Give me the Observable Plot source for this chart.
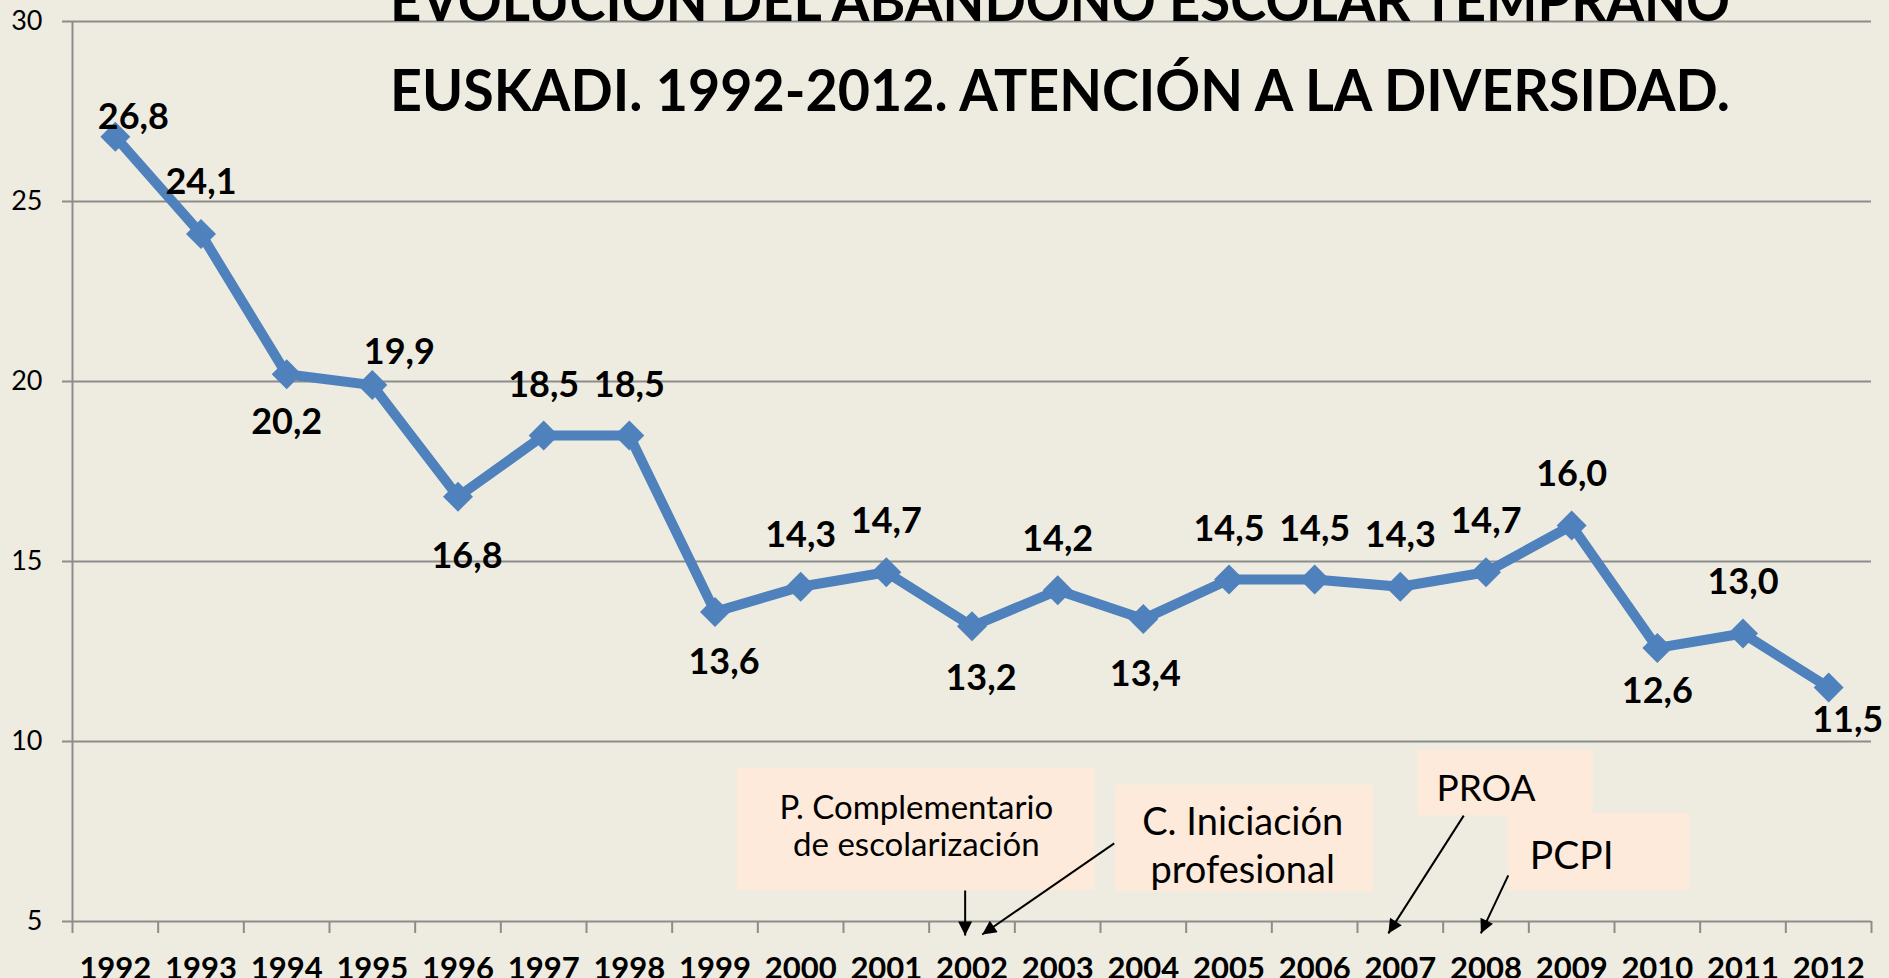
<!DOCTYPE html>
<html>
<head>
<meta charset="utf-8">
<script src="https://cdn.jsdelivr.net/npm/d3@7"></script>
<script src="https://cdn.jsdelivr.net/npm/@observablehq/plot@0.6"></script>
<style>
  html, body { margin: 0; padding: 0; background: #EEECE1; overflow: hidden; }
  #chart { width: 1889px; height: 978px; }
</style>
</head>
<body>
<div id="chart"></div>
<script>
// ---- data ----
const years = [1992, 1993, 1994, 1995, 1996, 1997, 1998, 1999, 2000, 2001, 2002,
               2003, 2004, 2005, 2006, 2007, 2008, 2009, 2010, 2011, 2012];
const rates = [26.8, 24.1, 20.2, 19.9, 16.8, 18.5, 18.5, 13.6, 14.3, 14.7, 13.2,
               14.2, 13.4, 14.5, 14.5, 14.3, 14.7, 16.0, 12.6, 13.0, 11.5];
const yTicks = [5, 10, 15, 20, 25, 30];
const titleLines = ["EVOLUCIÓN DEL ABANDONO ESCOLAR TEMPRANO",
                    "EUSKADI. 1992-2012. ATENCIÓN A LA DIVERSIDAD."];

// annotation boxes (in year / % units)
const noteLabels = ["P. Complementario\nde escolarización", "C. Iniciación\nprofesional", "PROA", "PCPI"];
const noteBoxX1 = [1999.26, 2003.68, 2007.20, 2008.26];
const noteBoxX2 = [2003.44, 2006.69, 2009.25, 2010.38];
const noteBoxYTop = [9.25, 8.78, 9.75, 8.0];
const noteBoxYBottom = [5.86, 5.83, 7.94, 5.86];
const noteTextX = [2001.35, 2005.16, 2008.0, 2009.0];
const noteTextY = [6.833, 6.056, 8.361, 6.464];
const arrowX1 = [2001.92, 2003.66, 2007.74, 2008.26];
const arrowY1 = [5.86, 7.17, 7.94, 6.28];
const arrowX2 = [2001.92, 2002.12, 2006.86, 2007.94];
const arrowY2 = [4.61, 4.64, 4.67, 4.67];

// ---- styles (kept apart from the data) ----
const labelNudgeX = [18, 0, 0, 27, 9, 0, 0, 9, 0, 0, 9, 0, 2, 0, 0, 0, 0, 0, 0, 0, 19];
const labelNudgeY = [-19, -51, 48, -33, 60, -50, -50, 51, -51, -51, 52, -51, 55, -50, -50, -51, -51, -51, 44, -51, 33];
const noteFontSize = [33, 38, 37, 39];
const noteLineSpacing = [37, 48, 40, 40];

const lineColor = "#4F81BD";
const gridColor = "#8C8C8C";
const boxColor = "#FDEADA";

const rows = years.map((year, i) => ({year, rate: rates[i], dx: labelNudgeX[i], dy: labelNudgeY[i]}));
const notes = noteLabels.map((label, i) => ({
  label,
  x1: noteBoxX1[i], x2: noteBoxX2[i], y1: noteBoxYTop[i], y2: noteBoxYBottom[i],
  tx: noteTextX[i], ty: noteTextY[i],
  ax1: arrowX1[i], ay1: arrowY1[i], ax2: arrowX2[i], ay2: arrowY2[i],
  fs: noteFontSize[i], lh: noteLineSpacing[i] / noteFontSize[i]
}));
const boundaries = years.map(y => y - 0.5).concat([years[years.length - 1] + 0.5]);
const fmt = v => v.toFixed(1).replace(".", ",");

const labelMarks = d3.groups(rows, d => `${d.dx},${d.dy}`).map(([, g]) =>
  Plot.text(g, {
    x: "year", y: "rate", text: d => fmt(d.rate),
    dx: g[0].dx, dy: g[0].dy,
    fontSize: 36, fontWeight: "bold", fill: "#000", lineAnchor: "middle"
  })
);

const noteTextMarks = notes.map(n =>
  Plot.text([n], {
    x: "tx", y: "ty", text: "label",
    fontSize: n.fs, lineHeight: n.lh, lineAnchor: "bottom", textAnchor: "middle", fill: "#000"
  })
);

const plot = Plot.plot({
  width: 1889,
  height: 978,
  marginLeft: 72,
  marginRight: 18,
  marginTop: 21,
  marginBottom: 57,
  style: {background: "#EEECE1", fontFamily: "Lato, 'Open Sans', sans-serif", color: "#000", overflow: "visible"},
  x: {type: "linear", domain: [1991.5, 2012.5], label: null},
  y: {domain: [5, 30], label: null},
  marks: [
    Plot.gridY(yTicks, {stroke: gridColor, strokeOpacity: 1, strokeWidth: 2}),
    Plot.ruleX([boundaries[0]], {y1: 5, y2: 30, stroke: gridColor, strokeWidth: 2}),
    Plot.axisY(yTicks, {tickSize: 10, tickPadding: 20, stroke: gridColor, strokeWidth: 2,
                        fill: "#000", fontSize: 27, tickFormat: d => String(d), label: null}),
    Plot.axisX(boundaries, {tickSize: 12, tickFormat: () => "", stroke: gridColor, strokeWidth: 2, label: null}),
    Plot.axisX(years, {tickSize: 0, tickPadding: 35, tickFormat: d => String(d),
                       fontSize: 31, fontWeight: "bold", fill: "#000", label: null}),
    Plot.rect(notes, {x1: "x1", x2: "x2", y1: "y1", y2: "y2", fill: boxColor}),
    ...noteTextMarks,
    Plot.link(notes, {x1: "ax1", y1: "ay1", x2: "ax2", y2: "ay2", stroke: "#000", strokeWidth: 2,
                      ariaDescription: "note-arrow"}),
    Plot.line(rows, {x: "year", y: "rate", stroke: lineColor, strokeWidth: 10}),
    Plot.dot(rows, {x: "year", y: "rate", symbol: "diamond2", r: 13.5, fill: lineColor}),
    ...labelMarks,
    Plot.text([titleLines[0]], {frameAnchor: "top", text: d => d, dx: 88, dy: -1, lineAnchor: "bottom",
                                fontSize: 58, fontWeight: "bold", fill: "#000", ariaDescription: "chart-title"}),
    Plot.text([titleLines[1]], {frameAnchor: "top", text: d => d, dx: 88, dy: 89, lineAnchor: "bottom",
                                fontSize: 58, fontWeight: "bold", fill: "#000", ariaDescription: "chart-title"})
  ]
});

document.getElementById("chart").appendChild(plot);

// filled arrowheads for the annotation arrows
const ns = "http://www.w3.org/2000/svg";
const defs = document.createElementNS(ns, "defs");
const marker = document.createElementNS(ns, "marker");
marker.setAttribute("id", "tri");
marker.setAttribute("viewBox", "0 0 10 10");
marker.setAttribute("refX", "10");
marker.setAttribute("refY", "5");
marker.setAttribute("markerUnits", "userSpaceOnUse");
marker.setAttribute("markerWidth", "16");
marker.setAttribute("markerHeight", "14");
marker.setAttribute("orient", "auto");
const tri = document.createElementNS(ns, "path");
tri.setAttribute("d", "M0,0L10,5L0,10z");
tri.setAttribute("fill", "#000");
marker.appendChild(tri);
defs.appendChild(marker);
plot.insertBefore(defs, plot.firstChild);
plot.querySelectorAll('g[aria-description="note-arrow"] path')
  .forEach(p => p.setAttribute("marker-end", "url(#tri)"));

// title stretched to the reference's width
plot.querySelectorAll('g[aria-description="chart-title"] text').forEach(t => {
  t.setAttribute("textLength", "1340");
  t.setAttribute("lengthAdjust", "spacingAndGlyphs");
});
</script>
</body>
</html>
